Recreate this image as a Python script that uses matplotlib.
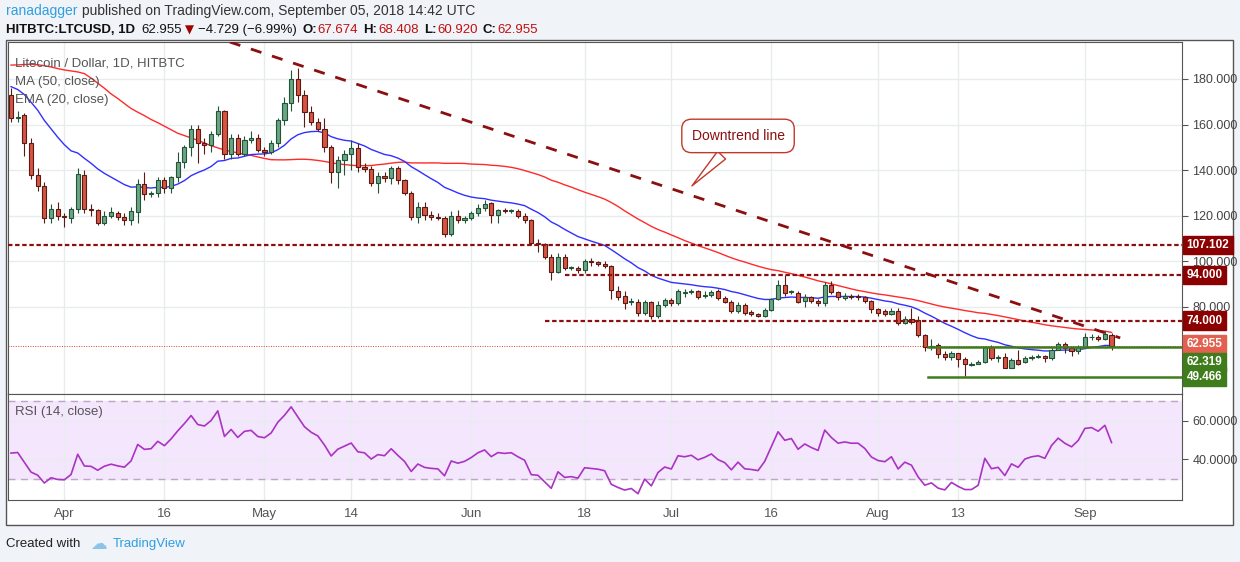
import numpy as np
import pandas as pd
import matplotlib
matplotlib.use("Agg")
import matplotlib.pyplot as plt
from matplotlib.patches import Rectangle
import datetime as dt

plt.rcParams["font.family"] = ["Liberation Sans", "DejaVu Sans"]

# daily candles, Mar 24 2018 .. Sep 05 2018
opens = [173,163,164,152,138,133,119,123,120,119,123,138,123,122.5,117,120,121,119.5,118,121.5,
         134,129.5,130,135.5,132,137,143.5,150,158,152,151,156,166,147,154,147,153,154,149,148,
         152,162,169.5,180,173,165.5,161,158,150,139,144.5,147,149.5,141.5,140.5,134.5,137.5,136.5,141,135.5,
         130,119.5,124,120.5,119.5,119,112,120,118,119,121,123.5,125.5,120.5,122.5,122,122,120,118,108,
         107.5,102,95.5,102,97,97,96,100,99.5,99,98,87,84.8,82.1,82.3,77.2,82,75.8,80.8,83,
         81.6,86.2,86.4,87,85,85.4,87,83.8,82.3,78.4,80.8,77.6,76.8,76.2,78.8,83.6,89.5,86.4,86,82.4,
         84.3,82.8,81.6,89.7,86.7,83.8,84.8,84.6,84.5,82.6,79,78,77,78.3,73.1,74.9,74.3,67.7,62.3,63.3,59.2,
         58.2,59.7,57.1,54.4,54.9,55.8,62.6,57.5,58.2,53.4,56.8,55.8,57.5,58.2,58.5,57.5,61.2,63.6,61.9,60.7,
         62.6,66.7,66.6,66,67.674]
closes = [163,163.5,152,138,133,119,123,120,119.5,123,138.5,123,122.5,117,120,121.5,119.5,118,122,134,
          129.5,130,135.5,132,137,143.5,150,158,152,151,156,166,147,154,147,153,154,149,148,152,
          162,169.5,180,173,165.5,161,158,150,139,144.5,147,149.5,141.5,140.5,134.5,137.5,136.5,141,135.5,130,
          119.5,124,120.5,119.5,119,112,120,118,119,121,123.5,125,120.5,122.5,122,122.3,120,118,108,107.5,
          102,95.5,102,97,97.3,96,100,99.5,99,98,87.5,84.5,81.9,82.4,77.2,82,75.8,80.8,83,81.6,
          87,86.4,87,84.5,85.4,86.6,83.8,82.3,78.4,80.8,77.2,76.8,76.2,78.8,83.6,89.5,86.1,86.8,82.3,84.3,
          82.8,81.6,89.7,86.7,84.3,84.8,84.3,84.3,82.4,79,77.5,77,78.3,73.1,74.9,73.6,67.7,62.3,62.9,59.2,57.9,
          59.7,57.1,54.9,54.9,55.8,62.6,57.5,57.9,53.4,56.8,55,57.5,58.2,58.5,57.5,61.2,63.6,61.9,60.7,62.6,
          66.7,67,66,68,62.955]
highs = [176,166,165,154,141,135,125,126,121,124,141,140,125,123,122,124,122,121,124,136,
         139,131,137,137,137.5,148,151,160,160,154,157,168,166.5,156,156,155,157,156,150,153,
         163,172,184,185,175,168,163,163,151,146,149,153,152,143,142,139,139,142,142,136,
         131,126,126,122,121,120,122,122.5,120,122,125,127,126,123,123.5,123,123,121,118.5,110,
         108,103,103.5,103,98,98,101,101.5,100,100,98.5,89,87,84,83.5,83,82.5,82.5,84,84,
         88,88,88,87.5,87,87.5,88,85,83,82,81.5,78.5,77.5,79.5,84,92,94,87.5,87,85.5,
         85,83.5,91,91.5,87,86,85.5,85.5,85,83,79.5,79,79.5,79.5,76,79.5,76,68,66,64,60.5,
         60.5,60,58,56,56.5,63,63.5,59,60,57.5,61,58.5,59,59.5,59,62.5,64.5,64.5,62.5,63.5,
         68.5,68,67.5,69.5,68.408]
lows = [161,161,146,136,131,117,117,118,115,117,121,121,120,116,116,119,118,116,116,117,
        127,128,128,130,130,135,141,146,143,147,148,155,145,145,146,146,152,148,146,147,
        150,160,166,170,159,160,157,148,134.5,132,138,140,139,139,133,130,135,134,134,129,
        118,117,118,118,118,110.5,111,117,117,118,120,122,117,117,121,121,119,117,107,104,
        101,92,95,96,96,95,95,98,98,97,83.5,83,79,81,76,76.5,74.5,75,80,80.5,
        81,84.5,85.5,83.5,84,84.5,83,81.5,77.5,77.5,76.5,76,75.5,75.5,78,83,85,85.5,81.5,80,
        81.5,80.5,80.5,85.5,83,83,83.5,83,81.5,77.5,76,76,76.5,72,72.5,72.5,67,60.5,61,57.5,56.5,
        56.5,53.5,49.5,54,55,55.5,56.5,56,53,53,54.5,55.5,56.5,57.5,56,56.5,61,60,58.5,59.5,
        62,65.5,65,65.5,60.92]

# closes before Mar 24 (Feb 02 .. Mar 23), only used to warm up MA/EMA/RSI
prior_closes = [150,160,145,130,145,140,150,155,150,145,160,160,220,230,230,245,220,230,230,215,
                205,215,205,210,215,220,200,210,205,210,215,212,195,185,180,185,175,185,180,180,
                165,170,175,165,165,170,175,172,165,172]

tick_labels = ["Apr", "16", "May", "14", "Jun", "18", "Jul", "16", "Aug", "13", "Sep"]
tick_dates = ["2018-04-01", "2018-04-16", "2018-05-01", "2018-05-14", "2018-06-01", "2018-06-18",
              "2018-07-01", "2018-07-16", "2018-08-01", "2018-08-13", "2018-09-01"]
resist_levels = [107.102, 94.0, 74.0]
support_levels = [62.319, 49.466]
last_price = 62.955

start = dt.date(2018, 3, 24)
n = len(closes)
idx = np.arange(n)

allc = pd.Series(prior_closes + closes)
npre = len(prior_closes)
ma50 = allc.rolling(50, min_periods=1).mean().values[npre:]
ema20 = allc.ewm(span=20, adjust=False).mean().values[npre:]
d = allc.diff()
up = d.clip(lower=0).ewm(alpha=1/14, adjust=False).mean()
dn = (-d.clip(upper=0)).ewm(alpha=1/14, adjust=False).mean()
rsi = (100 - 100 / (1 + up / dn)).values[npre:]

UP_F, UP_E = "#6ba583", "#225437"
DN_F, DN_E = "#d75442", "#5b1a13"
DARK_RED = "#8b0f0f"
GREEN = "#3f7d1c"
GRID = "#e9ecef"

W, H = 1240, 562
fig = plt.figure(figsize=(12.4, 5.62), dpi=100, facecolor="#f0f3f8")
ax = fig.add_axes([8/W, 1-394/H, 1174/W, 352/H])
ax2 = fig.add_axes([8/W, 1-500/H, 1174/W, 106/H], sharex=ax)
# outer white frame
fig.patches.append(Rectangle((6/W, 1-525/H), 1227/W, 485/H, transform=fig.transFigure,
                             facecolor="white", edgecolor="#555555", lw=1, zorder=-1))

x0 = -(11 - 8) / 6.67
x1 = (1182 - 11) / 6.67
for a in (ax, ax2):
    a.set_facecolor("white")
    a.set_xlim(x0, x1)
    for s in a.spines.values():
        s.set_color("#555555")
    a.grid(True, color=GRID, lw=1)
    a.set_axisbelow(True)

tpos = [(dt.date.fromisoformat(t) - start).days for t in tick_dates]

# candles
w = 0.62
for i in idx:
    o, c = opens[i], closes[i]
    h, l = max(highs[i], o, c), min(lows[i], o, c)
    fc, ec = (UP_F, UP_E) if c >= o else (DN_F, DN_E)
    ax.vlines(i, l, h, color=ec, lw=0.8, zorder=3)
    ax.add_patch(Rectangle((i - w/2, min(o, c)), w, max(abs(c - o), 0.25),
                           facecolor=fc, edgecolor=ec, lw=0.8, zorder=4))

ax.plot(idx, ma50, color="#ff2a2a", lw=1, zorder=2)
ax.plot(idx, ema20, color="#3030ff", lw=1, zorder=2)

ax.set_ylim(41.8, 196.2)
ax.yaxis.tick_right()
ax.set_yticks([80, 100, 120, 140, 160, 180])
ax.set_yticklabels([f"{v:.3f}" for v in [80, 100, 120, 140, 160, 180]])
ax.tick_params(axis="y", colors="#555555", labelsize=9, length=4, labelcolor="#444444")
ax.tick_params(axis="x", length=0, labelbottom=False)
ax.set_xticks(tpos)

# levels
ax.axhline(resist_levels[0], color=DARK_RED, lw=1.6, ls=(0, (2, 1.2)), zorder=5)
for lv in resist_levels[1:]:
    i0 = 83 if lv > 90 else 80
    ax.plot([i0, x1], [lv, lv], color=DARK_RED, lw=1.6, ls=(0, (2, 1.2)), zorder=5)
for lv in support_levels:
    ax.plot([137.5, x1], [lv, lv], color=GREEN, lw=1.8, zorder=5)
ax.axhline(last_price, color="#d0443a", lw=0.7, ls=(0, (1, 1.5)), zorder=1)

# downtrend line
ax.plot([32.8, 166.3], [196.2, 66.4], color=DARK_RED, lw=2, ls=(0, (4, 4)), zorder=5)

ax.annotate("Downtrend line", xy=(101.8, 132.2), xytext=(109, 155), ha="center", va="center",
            fontsize=10, color=DARK_RED, zorder=8,
            bbox=dict(boxstyle="round,pad=0.7", fc="white", ec="#c0392b", lw=1),
            arrowprops=dict(arrowstyle="wedge,tail_width=0.8,shrink_factor=0.5", fc="white",
                            ec="#c0392b", lw=1, relpos=(0.45, 0)))

# right labels
def tag(a, v, text, color):
    a.text(1.004, v, text, transform=a.get_yaxis_transform(), va="center", ha="left",
           fontsize=8.5, color="white", fontweight="bold", zorder=10, clip_on=False,
           bbox=dict(boxstyle="square,pad=0.28", fc=color, ec=color))

for lv in resist_levels:
    tag(ax, lv, f"{lv:.3f}", "#8b0000")
tag(ax, last_price + 0.8, f"{last_price:.3f}", "#e2604f")
tag(ax, support_levels[0] - 6.5, f"{support_levels[0]:.3f}", GREEN)
tag(ax, support_levels[1], f"{support_levels[1]:.3f}", GREEN)

ax.text(0.006, 0.93, "Litecoin / Dollar, 1D, HITBTC", transform=ax.transAxes, fontsize=9.5, color="#555555")
ax.text(0.006, 0.878, "MA (50, close)", transform=ax.transAxes, fontsize=9.5, color="#555555")
ax.text(0.006, 0.826, "EMA (20, close)", transform=ax.transAxes, fontsize=9.5, color="#555555")

# RSI
ax2.axhspan(30, 70, color="#f4e6fd", zorder=0)
ax2.axhline(70, color="#b8a8c0", lw=1, ls=(0, (5, 4)))
ax2.axhline(30, color="#b8a8c0", lw=1, ls=(0, (5, 4)))
ax2.plot(idx, rsi, color="#aa33c4", lw=1.2)
ax2.set_ylim(18.9, 73.7)
ax2.yaxis.tick_right()
ax2.set_yticks([40, 60])
ax2.set_yticklabels(["40.0000", "60.0000"])
ax2.tick_params(axis="y", colors="#555555", labelsize=9, length=4, labelcolor="#444444")
ax2.set_xticks(tpos)
ax2.set_xticklabels(tick_labels)
ax2.tick_params(axis="x", length=0, labelsize=9.5, labelcolor="#555555", pad=6)
ax2.text(0.006, 0.8, "RSI (14, close)", transform=ax2.transAxes, fontsize=9.5, color="#555555")

# header / footer: texts placed one after another on a line
renderer = fig.canvas.get_renderer()

def line(x, y, parts):
    for s, kw, gap in parts:
        t = fig.text(x / W, 1 - y / H, s, va="center", ha="left", **kw)
        x += t.get_window_extent(renderer).width + gap

blk = dict(color="#111111", fontsize=9.5)
bold = dict(color="#111111", fontsize=9.5, fontweight="bold")
red = dict(color="#c01010", fontsize=9.5)
line(6, 11, [("ranadagger", dict(color="#2f9fe0", fontsize=10), 4),
             ("published on TradingView.com, September 05, 2018 14:42 UTC", dict(color="#333333", fontsize=10), 0)])
line(6, 30, [("HITBTC:LTCUSD, 1D", bold, 6), ("62.955", blk, 3),
             ("\u25BC", dict(color="#a00000", fontsize=8.5, family=["DejaVu Sans"]), 4),
             ("\u22124.729 (\u22126.99%)", blk, 6),
             ("O:", bold, 1), ("67.674", red, 5), ("H:", bold, 1), ("68.408", red, 5),
             ("L:", bold, 1), ("60.920", red, 5), ("C:", bold, 1), ("62.955", red, 0)])
line(6, 544, [("Created with", dict(color="#222222", fontsize=9.5), 10),
              ("\u2601", dict(color="#8ec3e8", fontsize=12, family=["DejaVu Sans"]), 6),
              ("TradingView", dict(color="#2f9fe0", fontsize=9.5), 0)])

fig.savefig("out.png", dpi=100, facecolor=fig.get_facecolor())
